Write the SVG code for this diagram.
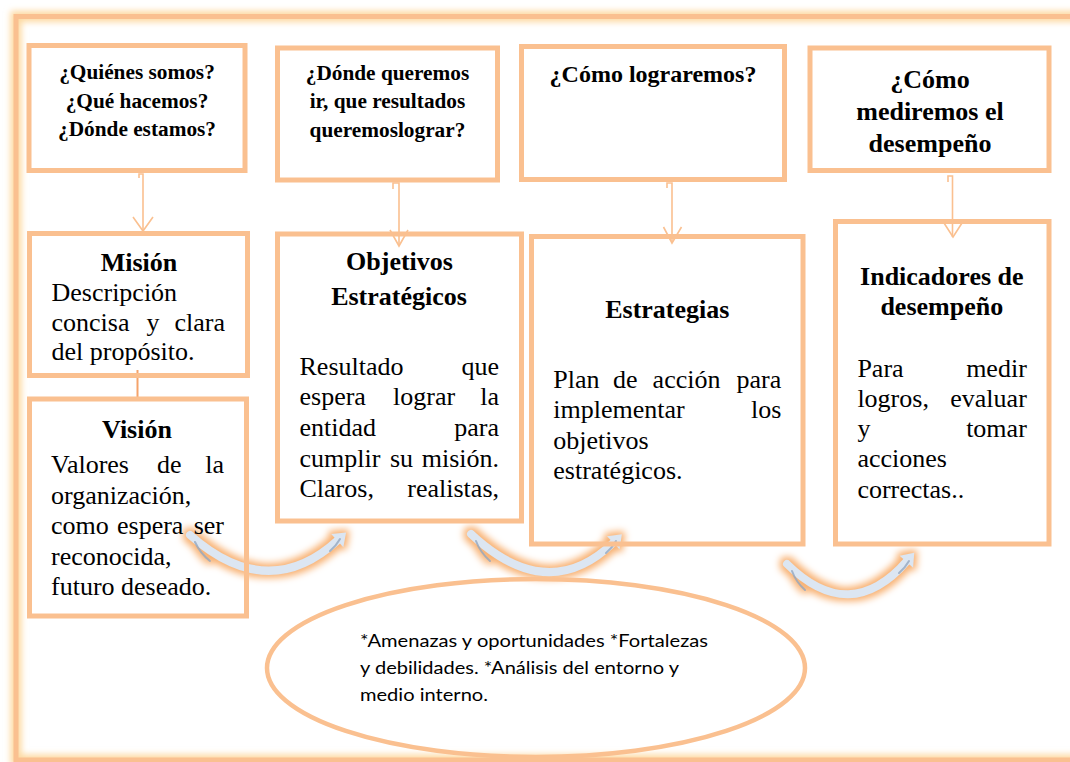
<svg xmlns="http://www.w3.org/2000/svg" width="1070" height="762" viewBox="0 0 1070 762">
<defs>
<style>
.box{fill:none;stroke:#FAC090;stroke-width:5}
.q{font-family:"Liberation Serif","Times New Roman",serif;font-weight:bold;fill:#000;text-anchor:middle}
.h{font-family:"Liberation Serif","Times New Roman",serif;font-weight:bold;font-size:26px;fill:#000;text-anchor:middle}
.b{font-family:"Liberation Serif","Times New Roman",serif;font-size:26px;fill:#000}
.e{text-anchor:end}
.conn{fill:none;stroke:#FAC090;stroke-width:1.6}
.curve{fill:none;stroke:#DCE6F2;stroke-width:8;stroke-linecap:round}
.acc{fill:none;stroke:#94A6BE;stroke-width:2;stroke-linecap:round;opacity:0.8}
.el{font-family:Lato,"Liberation Sans",sans-serif;font-size:18px;fill:#000}
</style>
<filter id="glow" x="-30%" y="-60%" width="160%" height="220%" color-interpolation-filters="sRGB">
<feMorphology in="SourceAlpha" operator="dilate" radius="3" result="d"/>
<feGaussianBlur in="d" stdDeviation="3.5" result="b"/>
<feFlood flood-color="#F8B070"/>
<feComposite in2="b" operator="in" result="g"/>
<feMerge><feMergeNode in="g"/><feMergeNode in="SourceGraphic"/></feMerge>
</filter>
<filter id="soft" x="-5%" y="-5%" width="110%" height="110%">
<feGaussianBlur stdDeviation="3"/>
</filter>
<marker id="ch" markerUnits="userSpaceOnUse" markerWidth="24" markerHeight="24" refX="0" refY="0" viewBox="-2 -12 16 24" orient="auto">
<path d="M-1,-9 L11,0 L-1,9 Z" fill="#DCE6F2"/>
</marker>
</defs>
<rect x="0" y="0" width="1070" height="762" fill="#fff"/>
<g id="frame">
<rect x="16" y="16.5" width="1070" height="743.5" fill="none" stroke="#FDD9A0" stroke-width="11" filter="url(#soft)"/>
<rect x="16" y="16.5" width="1070" height="743.5" fill="none" stroke="#FAC090" stroke-width="5"/>
</g>
<g id="connectors">
<path class="conn" d="M139,178 V174 H143 V231"/>
<path class="conn" d="M133,217 L143,231 L153,217"/>
<path class="conn" d="M393,189 V183 H399 V246"/>
<path class="conn" d="M390,230 L399,246 L408,230"/>
<path class="conn" d="M667,188 V183 H672 V243"/>
<path class="conn" d="M663.5,227 L672,243 L681.5,227"/>
<path class="conn" d="M948,182 V176 H952.5 V237"/>
<path class="conn" d="M944,223 L953,237 L962,223"/>
<path d="M137.5,370 V399" fill="none" stroke="#F5A36A" stroke-width="2"/>
<g filter="url(#glow)">
<path class="curve" d="M190,535 Q268,604 338,540" marker-end="url(#ch)"/>
<path class="acc" d="M195,542 Q200,553 210,561"/>
<path class="acc" d="M330,551 Q336,546 340,539"/>
</g>
<g filter="url(#glow)">
<path class="curve" d="M471,534 Q548,606 614,542" marker-end="url(#ch)"/>
<path class="acc" d="M476,541 Q480,552 490,561"/>
<path class="acc" d="M606,553 Q612,548 616,541"/>
</g>
<g filter="url(#glow)">
<path class="curve" d="M787,564 Q850,626 907,561" marker-end="url(#ch)"/>
<path class="acc" d="M792,571 Q796,582 805,590"/>
<path class="acc" d="M899,573 Q905,568 909,561"/>
</g>
</g>
<g id="q1">
<rect class="box" x="29" y="45.5" width="216" height="125"/>
<text class="q" font-size="21.3" x="137" y="79">¿Quiénes somos?</text>
<text class="q" font-size="21.3" x="137" y="107.5">¿Qué hacemos?</text>
<text class="q" font-size="21.3" x="137" y="136">¿Dónde estamos?</text>
</g>
<g id="q2">
<rect class="box" x="277.5" y="48" width="220" height="132"/>
<text class="q" font-size="21.3" x="387.5" y="80">¿Dónde queremos</text>
<text class="q" font-size="21.3" x="387.5" y="108">ir, que resultados</text>
<text class="q" font-size="21.3" x="387.5" y="137">queremoslograr?</text>
</g>
<g id="q3">
<rect class="box" x="521.5" y="46.5" width="263" height="133"/>
<text class="q" font-size="24" x="653" y="82">¿Cómo lograremos?</text>
</g>
<g id="q4">
<rect class="box" x="810" y="48" width="239" height="122.5"/>
<text class="q" font-size="26" x="930" y="88">¿Cómo</text>
<text class="q" font-size="26" x="930" y="120">mediremos el</text>
<text class="q" font-size="26" x="930" y="152">desempeño</text>
</g>
<g id="mision">
<rect class="box" x="29.5" y="233.5" width="218" height="142"/>
<text class="h" x="139" y="271">Misión</text>
<text class="b" x="51.5" y="301">Descripción</text>
<text class="b" x="51.5" y="331">concisa</text>
<text class="b" x="146.5" y="331">y</text>
<text class="b e" x="225" y="331">clara</text>
<text class="b" x="51.5" y="360">del propósito.</text>
</g>
<g id="vision">
<rect class="box" x="29.5" y="399" width="217" height="217"/>
<text class="h" x="137" y="438">Visión</text>
<text class="b" x="51" y="473">Valores</text>
<text class="b" x="157" y="473">de</text>
<text class="b e" x="224" y="473">la</text>
<text class="b" x="51" y="503.5">organización,</text>
<text class="b" x="51" y="534">como</text>
<text class="b" x="117" y="534">espera</text>
<text class="b e" x="224" y="534">ser</text>
<text class="b" x="51" y="564.5">reconocida,</text>
<text class="b" x="51" y="595">futuro deseado.</text>
</g>
<g id="objetivos">
<rect class="box" x="277.5" y="234" width="244" height="287"/>
<text class="h" x="399.5" y="270">Objetivos</text>
<text class="h" x="399" y="305">Estratégicos</text>
<text class="b" x="299.5" y="375">Resultado</text>
<text class="b e" x="499" y="375">que</text>
<text class="b" x="299.5" y="405">espera</text>
<text class="b" x="393" y="405">lograr</text>
<text class="b e" x="499" y="405">la</text>
<text class="b" x="299.5" y="436">entidad</text>
<text class="b e" x="499" y="436">para</text>
<text class="b" x="299.5" y="466.5">cumplir</text>
<text class="b" x="390" y="466.5">su</text>
<text class="b e" x="499" y="466.5">misión.</text>
<text class="b" x="299.5" y="497">Claros,</text>
<text class="b e" x="499" y="497">realistas,</text>
</g>
<g id="estrategias">
<rect class="box" x="531.5" y="236.5" width="271.5" height="307.5"/>
<text class="h" x="667.3" y="318">Estrategias</text>
<text class="b" x="553.3" y="388">Plan</text>
<text class="b" x="613" y="388">de</text>
<text class="b" x="652.6" y="388">acción</text>
<text class="b e" x="781.3" y="388">para</text>
<text class="b" x="553.3" y="418">implementar</text>
<text class="b e" x="781.3" y="418">los</text>
<text class="b" x="553.3" y="448.5">objetivos</text>
<text class="b" x="553.3" y="479">estratégicos.</text>
</g>
<g id="indicadores">
<rect class="box" x="835.5" y="221.5" width="213.5" height="322.5"/>
<text class="h" x="941.8" y="285">Indicadores de</text>
<text class="h" x="941.8" y="315">desempeño</text>
<text class="b" x="857.4" y="376.7">Para</text>
<text class="b e" x="1026.8" y="376.7">medir</text>
<text class="b" x="857.4" y="406.7">logros,</text>
<text class="b e" x="1026.8" y="406.7">evaluar</text>
<text class="b" x="857.4" y="436.7">y</text>
<text class="b e" x="1026.8" y="436.7">tomar</text>
<text class="b" x="857.4" y="467">acciones</text>
<text class="b" x="857.4" y="497.5">correctas..</text>
</g>
<g id="analisis">
<ellipse cx="536" cy="668" rx="269" ry="89" fill="none" stroke="#FAC090" stroke-width="4.5"/>
<text class="el" x="360" y="647" textLength="348" lengthAdjust="spacingAndGlyphs">*Amenazas y oportunidades *Fortalezas</text>
<text class="el" x="360" y="674" textLength="319" lengthAdjust="spacingAndGlyphs">y debilidades. *Análisis del entorno y</text>
<text class="el" x="360" y="701" textLength="128" lengthAdjust="spacingAndGlyphs">medio interno.</text>
</g>
</svg>
